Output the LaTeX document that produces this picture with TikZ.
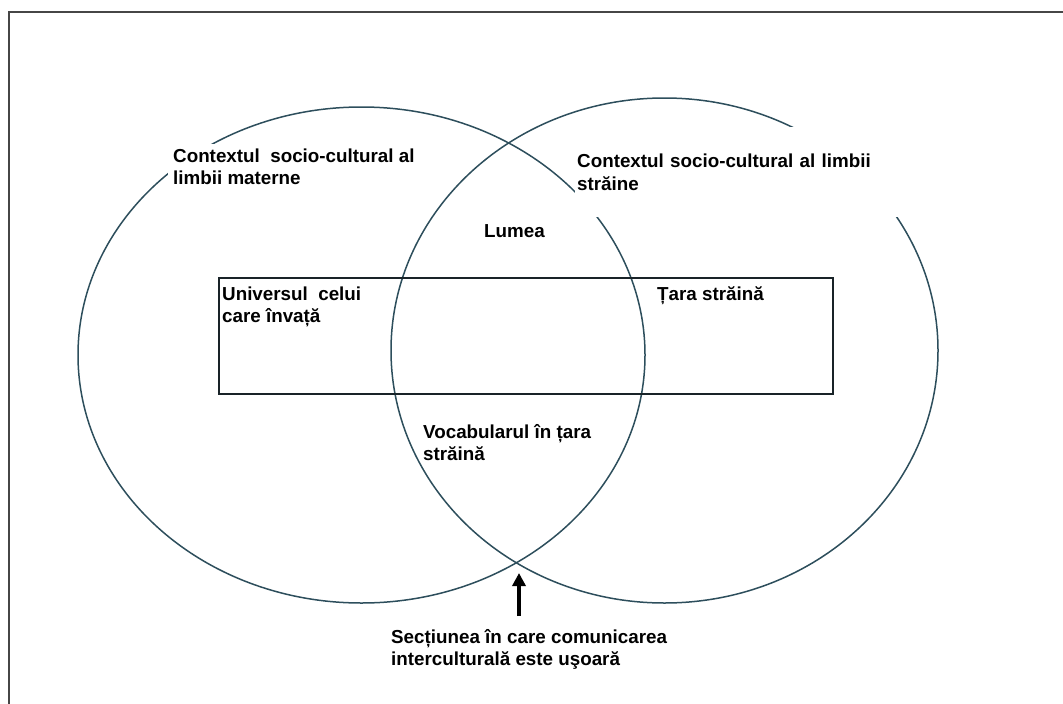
\documentclass[tikz,border=0pt]{standalone}
\usepackage{fontspec}
\setmainfont{Liberation Sans}
\usetikzlibrary{arrows.meta}
\definecolor{ringline}{RGB}{45,78,92}
\definecolor{boxline}{RGB}{25,35,40}
\definecolor{frameline}{RGB}{70,70,70}
\newcommand{\lblfont}{\fontsize{18.8}{22.5}\selectfont\bfseries}

\begin{document}
\begin{tikzpicture}[
  x=1pt, y=-1pt,
  ring/.style={draw=ringline, line width=1.5pt},
  lbl/.style={fill=white, inner sep=2pt, align=left, anchor=north west, font=\lblfont}
]
\useasboundingbox (0,0) rectangle (1063,704);
\draw[frameline, line width=2.5pt] (1063,12) -- (9,12) -- (9,704);

\draw[ring] (361.5,355) ellipse [x radius=283.5pt, y radius=248pt];
\draw[ring] (664.5,350.5) ellipse [x radius=273.5pt, y radius=252.5pt];

\node[draw=boxline, line width=1.8pt, anchor=north west, inner sep=0pt,
  minimum width=614pt, minimum height=116pt] (world) at (218,277) {};

\node[lbl, inner sep=5pt] (mother) at (168,143.5) {Contextul\ \ socio-cultural al\\limbii materne};
\node[lbl, minimum width=325pt, minimum height=90pt, text width=321pt] (foreign) at (575,127)
  {Contextul socio-cultural al limbii\\străine};
\node[lbl] (lumea) at (482,222.5) {Lumea};
\node[lbl] (learner) at (220,284.5) {Universul\ \ celui\\care învață};
\node[lbl] (tara) at (655,284.5) {Țara străină};
\node[lbl] (vocab) at (421,422) {Vocabularul în țara\\străină};
\node[lbl] (section) at (389,627) {Secțiunea în care comunicarea\\interculturală este uşoară};

\coordinate (tip) at (519,573);
\coordinate (foot) at (519,616);
\draw[-{Triangle[length=13pt,width=13pt]}, line width=3.5pt] (foot) -- (tip);

\end{tikzpicture}
\end{document}
